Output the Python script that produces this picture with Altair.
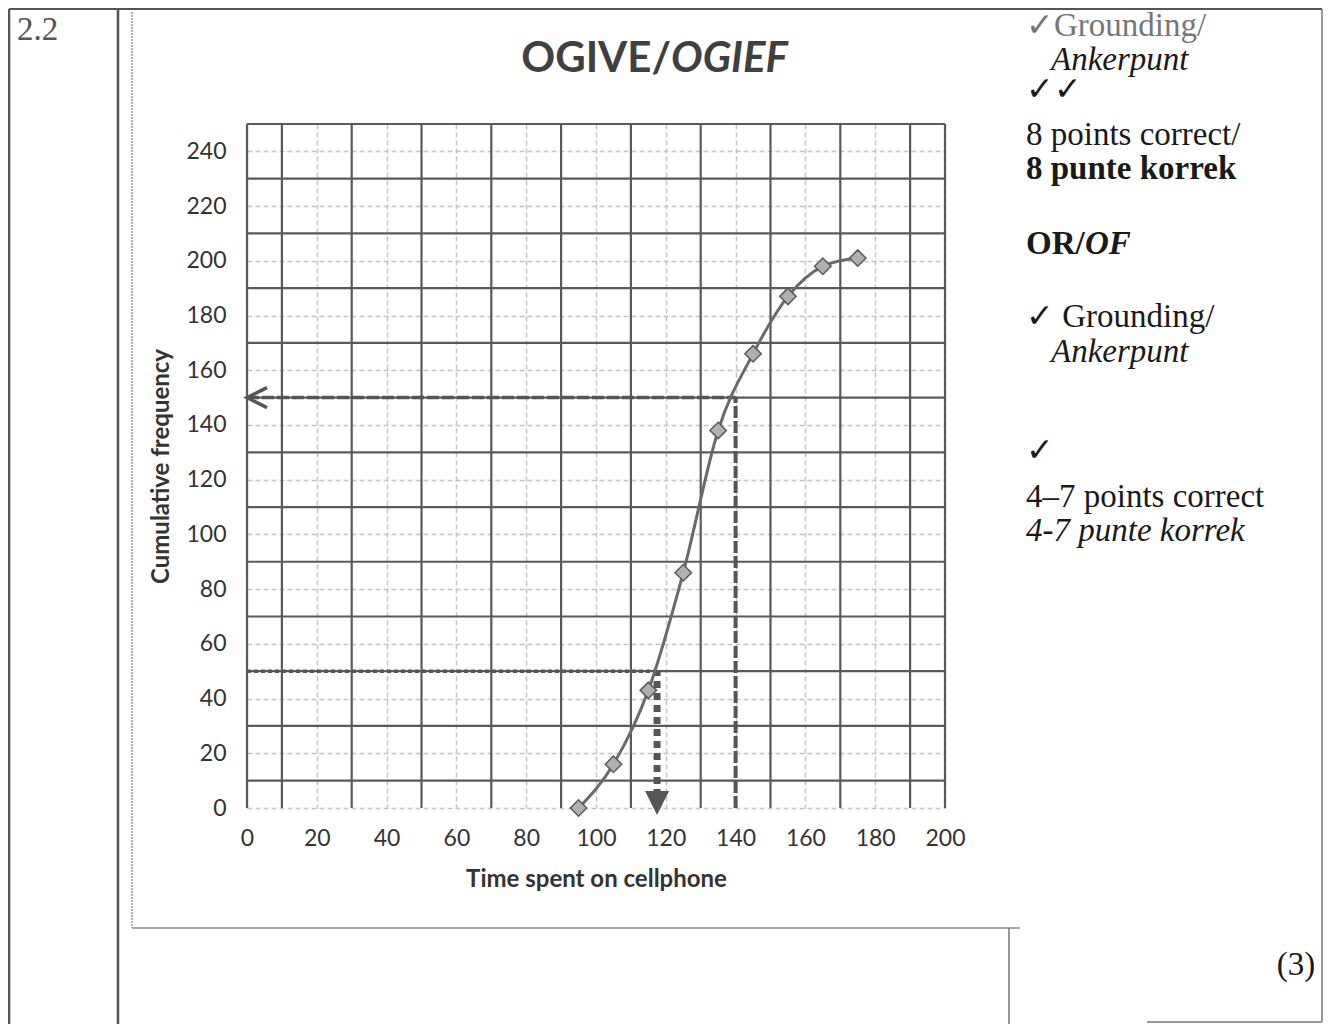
import altair as alt
import pandas as pd

# ---------------- data ----------------
time_spent = [95, 105, 115, 125, 135, 145, 155, 165, 175]
cumulative_frequency = [0, 16, 43, 86, 138, 166, 187, 198, 201]

x_ticks = [0, 20, 40, 60, 80, 100, 120, 140, 160, 180, 200]
y_ticks = [0, 20, 40, 60, 80, 100, 120, 140, 160, 180, 200, 220, 240]

# hand drawn graph-paper lines (dark) over the Excel gridlines
paper_x = [0, 10, 30, 50, 70, 90, 110, 130, 150, 170, 190, 200]
paper_y = [10, 30, 50, 70, 90, 110, 130, 150, 170, 190, 210, 230, 250]

# read-off lines drawn on the ogive
read_freq = [150, 50]
read_time = [140, 117.5]

# ---------------- layout helpers ----------------
W, H = 698, 684
OX, OY = 247, 124          # screen position of the plot origin
PAD = {"left": OX - 8, "top": OY - 8, "right": 1316 - (OX - 8) - W, "bottom": 1016 - (OY - 8) - H}

xs = alt.Scale(domain=[0, 200], nice=False)
ys = alt.Scale(domain=[0, 250], nice=False)
xa = alt.Axis(values=x_ticks, title="Time spent on cellphone", labelPadding=19,
              titlePadding=17, labelFlush=False, labelBound=False)
ya = alt.Axis(values=y_ticks, title="Cumulative frequency", labelPadding=21,
              titlePadding=12, labelFlush=False, labelBound=False)

one = alt.Data(values=[{}])


def X(field, **kw):
    return alt.X(field, scale=xs, axis=xa, **kw)


def Y(field, **kw):
    return alt.Y(field, scale=ys, axis=ya, **kw)


def frame(x1, y1, x2, y2, color="#555", width=2, dash=None):
    kw = dict(color=color, strokeWidth=width)
    if dash:
        kw["strokeDash"] = dash
    return alt.Chart(one).mark_rule(**kw).encode(
        x=alt.value(x1 - OX), x2=alt.value(x2 - OX),
        y=alt.value(y1 - OY), y2=alt.value(y2 - OY))


def label(txt, x, y, size=33, font="Liberation Serif", weight="normal",
          style="normal", align="left", color="#1a1a1a", baseline="alphabetic"):
    return alt.Chart(one).mark_text(
        text=txt, font=font, fontSize=size, fontWeight=weight, fontStyle=style,
        align=align, baseline=baseline, color=color).encode(
        x=alt.value(x - OX), y=alt.value(y - OY))


ogive = pd.DataFrame({"time": time_spent, "cf": cumulative_frequency})
px = pd.DataFrame({"v": paper_x, "lo": 0, "hi": 250})
py = pd.DataFrame({"v": paper_y, "lo": 0, "hi": 200})

# ---------------- plot layers ----------------
vlines = alt.Chart(px).mark_rule(color="#5a5a5a", strokeWidth=2.2).encode(
    x=X("v:Q"), y=Y("lo:Q"), y2="hi:Q")
hlines = alt.Chart(py).mark_rule(color="#5a5a5a", strokeWidth=2.2).encode(
    y=Y("v:Q"), x=X("lo:Q"), x2="hi:Q")

r150 = pd.DataFrame({"f": [read_freq[0]], "t": [read_time[0]], "z": [0]})
r50 = pd.DataFrame({"f": [read_freq[1]], "t": [read_time[1]], "z": [0]})

h150 = alt.Chart(r150).mark_rule(color="#555", strokeWidth=3.5, strokeDash=[12, 3]).encode(
    x=X("z:Q"), x2="t:Q", y=Y("f:Q"))
v140 = alt.Chart(r150).mark_rule(color="#555", strokeWidth=4, strokeDash=[12, 3]).encode(
    x=X("t:Q"), y=Y("z:Q"), y2="f:Q")
arrow_left = alt.Chart(r150).mark_point(
    shape="M 1 -1 L -1 0 L 1 1", filled=False, size=400, color="#555",
    strokeWidth=3.5, opacity=1, xOffset=10).encode(x=X("z:Q"), y=Y("f:Q"))

h50 = alt.Chart(r50).mark_rule(color="#555", strokeWidth=3.5, strokeDash=[4, 3]).encode(
    x=X("z:Q"), x2="t:Q", y=Y("f:Q"))
v117 = alt.Chart(r50).mark_rule(color="#555", strokeWidth=7, strokeDash=[7, 5]).encode(
    x=X("t:Q"), y=Y("z:Q"), y2="f:Q")
arrow_down = alt.Chart(r50).mark_point(
    shape="M -1 -1 L 1 -1 L 0 1 Z", filled=True, size=576, color="#555",
    opacity=1, yOffset=-5).encode(x=X("t:Q"), y=Y("z:Q"))

curve = alt.Chart(ogive).mark_line(interpolate="monotone", color="#6a6a6a", strokeWidth=3).encode(
    x=X("time:Q"), y=Y("cf:Q"))
markers = alt.Chart(ogive).mark_point(
    shape="diamond", filled=True, size=270, color="#b0b0b0", stroke="#5a5a5a",
    strokeWidth=1.5, opacity=1).encode(x=X("time:Q"), y=Y("cf:Q"))

# ---------------- title and document text ----------------
title_a = label("OGIVE/", 671, 72, size=42, font="Lato", weight="bold", align="right", color="#404040")
title_b = label("OGIEF", 671, 72, size=42, font="Lato", weight="bold", style="italic", color="#404040")

doc = [
    label("2.2", 17, 40, color="#555"),
    label("\u2713Grounding/", 1026, 36, color="#777"),
    label("Ankerpunt", 1051, 70, style="italic"),
    label("\u2713\u2713", 1026, 100),
    label("8 points correct/", 1026, 145),
    label("8 punte korrek", 1026, 179, weight="bold"),
    label("OR/", 1026, 254, weight="bold"),
    label("OF", 1085, 254, weight="bold", style="italic"),
    label("\u2713 Grounding/", 1026, 327),
    label("Ankerpunt", 1051, 362, style="italic"),
    label("\u2713", 1026, 461),
    label("4\u20137 points correct", 1026, 507),
    label("4-7 punte korrek", 1026, 541, style="italic"),
    label("(3)", 1296, 975, align="center"),
]

frames = [
    frame(9, 9, 9, 1024, width=2.5),            # outer left
    frame(9, 9, 1322, 9, width=2),              # top
    frame(118, 9, 118, 1024, width=2.5),        # column divider
    frame(132, 12, 132, 928, color="#999", width=1.5, dash=[2, 1]),   # chart box left
    frame(132, 928, 1020, 928, color="#888", width=1.5),              # chart box bottom
    frame(1009, 928, 1009, 1024, color="#777", width=1.5),
    frame(1322, 9, 1322, 1022, color="#777", width=1.5),
    frame(1147, 1022, 1322, 1022, color="#777", width=1.5),
]

chart = alt.layer(
    vlines, hlines, h150, v140, h50, v117, curve, markers,
    arrow_left, arrow_down, title_a, title_b, *doc, *frames
).properties(
    width=W, height=H, padding=PAD,
    autosize=alt.AutoSizeParams(type="none"),
    background="white",
).configure_view(stroke=None).configure_axis(
    grid=True, gridColor="#c4c4c4", gridDash=[5, 3], gridWidth=1.5,
    domain=False, ticks=False,
    labelFont="Lato", labelFontSize=23, labelColor="#333",
    titleFont="Lato", titleFontSize=24, titleFontWeight="bold", titleColor="#333",
)

chart.save("out.html", embed_options={"renderer": "svg", "actions": False})
